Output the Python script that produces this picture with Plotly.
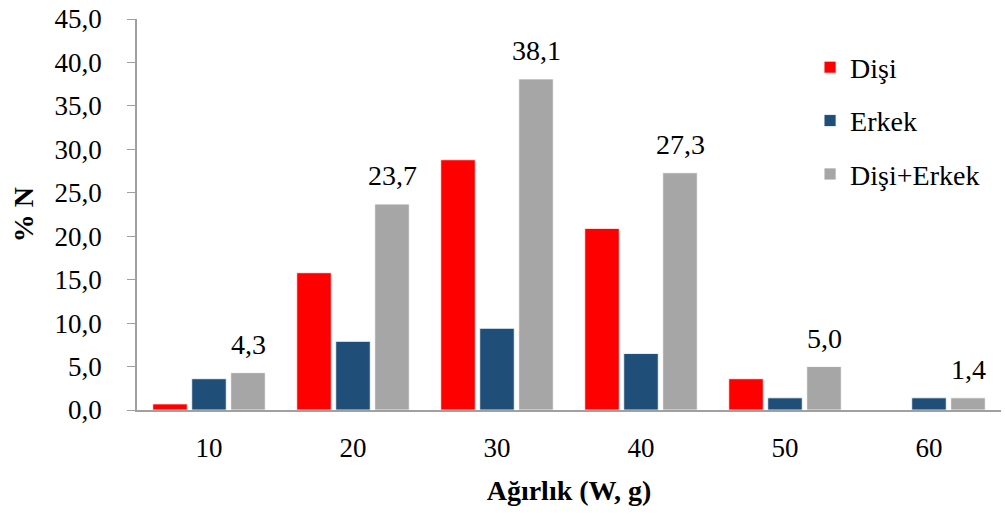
import plotly.graph_objects as go

# Weight classes (W, g) and percentage frequency per group
categories = ["10", "20", "30", "40", "50", "60"]
disi = [0.7, 15.8, 28.8, 20.9, 3.6, 0.0]
erkek = [3.6, 7.9, 9.4, 6.5, 1.4, 1.4]
disi_erkek = [4.3, 23.7, 38.1, 27.3, 5.0, 1.4]

series_names = ["Dişi", "Erkek", "Dişi+Erkek"]
series_colors = ["#FF0000", "#1F4E79", "#A6A6A6"]

FONT = "Liberation Serif"
W, H = 1005, 518
M = dict(l=137, r=4, t=19, b=108)
BARGAP = 0.1875
BARGROUPGAP = 0.115

fig = go.Figure()
for name, vals, col in zip(series_names, [disi, erkek, disi_erkek], series_colors):
    fig.add_trace(go.Bar(
        x=categories, y=vals, name=name,
        marker=dict(color=col, line=dict(color="rgba(255,255,255,0.8)", width=1)),
        legendgroup=name,
    ))

# value labels above the combined-group bars (category axis positions are indices)
plot_w = W - M["l"] - M["r"]
slot_px = plot_w / len(categories) * (1 - BARGAP) / 3
for i, v in enumerate(disi_erkek):
    fig.add_annotation(
        x=i, y=v, xref="x", yref="y", xshift=slot_px, yshift=11,
        text=f"{v:.1f}".replace(".", ","), showarrow=False,
        yanchor="bottom", font=dict(family=FONT, size=28, color="black"),
    )

fig.update_layout(
    width=W, height=H, margin=M,
    paper_bgcolor="white", plot_bgcolor="white",
    barmode="group", bargap=BARGAP, bargroupgap=BARGROUPGAP,
    separators=",.",
    font=dict(family=FONT, color="black"),
    legend=dict(
        x=0.779, y=0.94, xanchor="left", yanchor="top",
        font=dict(family=FONT, size=28), bgcolor="rgba(0,0,0,0)",
        traceorder="grouped", tracegroupgap=14,
    ),
    xaxis=dict(
        type="category", range=[-0.5, len(categories) - 0.5],
        showline=True, linecolor="#A0A0A0", linewidth=1.5,
        ticks="outside", ticklen=13, tickcolor="rgba(0,0,0,0)",
        tickfont=dict(family=FONT, size=27),
        title=dict(text="<b>Ağırlık (W, g)</b>", font=dict(family=FONT, size=28), standoff=18),
        showgrid=False,
    ),
    yaxis=dict(
        range=[0, 45], dtick=5, tickformat=".1f",
        showline=True, linecolor="#A0A0A0", linewidth=1.5,
        ticks="outside", ticklen=8, tickcolor="#A0A0A0",
        ticklabelstandoff=20,
        tickfont=dict(family=FONT, size=27),
        title=dict(text="<b>% N</b>", font=dict(family=FONT, size=28), standoff=13),
        showgrid=False, zeroline=False,
    ),
)

fig.write_html("out.html")
